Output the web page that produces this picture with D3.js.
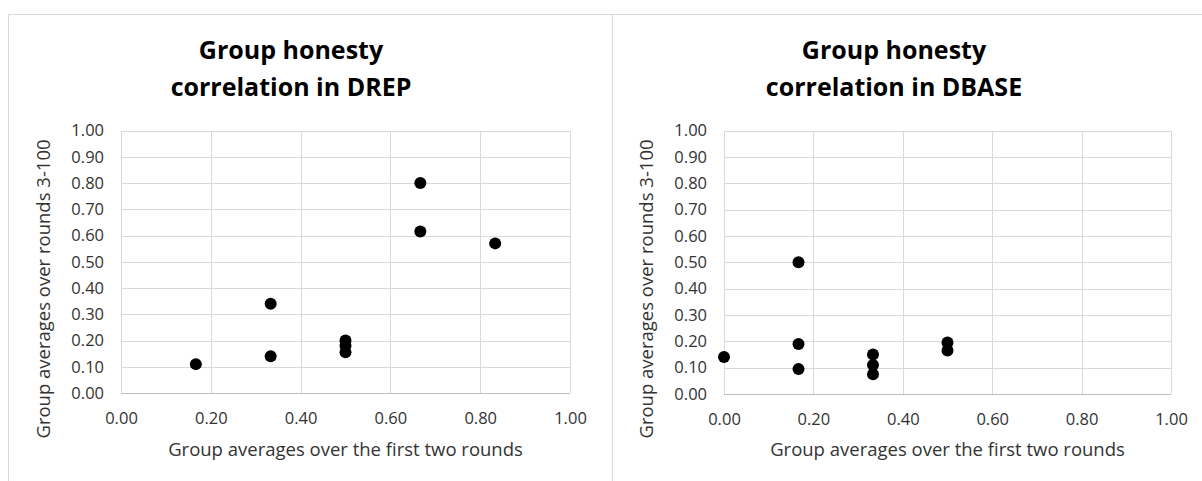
<!DOCTYPE html>
<html>
<head>
<meta charset="utf-8">
<script src="https://cdn.jsdelivr.net/npm/d3@7"></script>
<style>
  body { margin: 0; background: #fff; }
  text { font-family: "Open Sans", sans-serif; fill: #333; }
</style>
</head>
<body>
<div class="chart"></div>
<script>
// DREP panel: group averages (first two rounds vs rounds 3-100)
var drepX = [1/6, 1/3, 1/3, 0.5, 0.5, 0.5, 2/3, 2/3, 5/6];
var drepY = [0.11, 0.14, 0.34, 0.20, 0.18, 0.155, 0.80, 0.615, 0.57];

// DBASE panel
var dbaseX = [0, 1/6, 1/6, 1/6, 1/3, 1/3, 1/3, 0.5, 0.5];
var dbaseY = [0.14, 0.50, 0.19, 0.095, 0.15, 0.11, 0.075, 0.195, 0.165];

var xTickValues = [0, 0.2, 0.4, 0.6, 0.8, 1.0];
var yTickValues = [0, 0.1, 0.2, 0.3, 0.4, 0.5, 0.6, 0.7, 0.8, 0.9, 1.0];

var titleLine1 = "Group honesty";
var xTitle = "Group averages over the first two rounds";
var yTitle = "Group averages over rounds 3-100";

var svgWidth = 1202;
var svgHeight = 481;

var svg = d3.select(".chart")
  .append("svg")
  .attr("width", svgWidth)
  .attr("height", svgHeight);

// outer frame + divider between the two charts
svg.append("path")
  .attr("d", "M8.5,481 V14.5 H1202 M612.5,14.5 V481")
  .attr("fill", "none")
  .attr("stroke", "#d9d9d9");

var panels = [
  { xs: drepX, ys: drepY, title2: "correlation in DREP", left: 121, right: 570, bottom: 393, titleX: 291, yTitleX: 50 },
  { xs: dbaseX, ys: dbaseY, title2: "correlation in DBASE", left: 724, right: 1171, bottom: 394, titleX: 894, yTitleX: 653 }
];

var plotTop = 130.5;
var fmt = d3.format(".2f");

panels.forEach(function(p) {
  var width = p.right - p.left;
  var height = p.bottom - plotTop;

  var xScale = d3.scaleLinear().domain([0, 1]).range([0, width]);
  var yScale = d3.scaleLinear().domain([0, 1]).range([height, 0]);

  var g = svg.append("g")
    .attr("transform", `translate(${p.left}, ${plotTop})`);

  // horizontal gridlines + y labels
  var yAxis = d3.axisLeft(yScale)
    .tickValues(yTickValues)
    .tickFormat(fmt)
    .tickSize(-width)
    .tickPadding(17);

  var gy = g.append("g").call(yAxis);
  gy.select(".domain").remove();
  gy.selectAll("line").attr("stroke", "#d9d9d9").attr("shape-rendering", "crispEdges");
  gy.selectAll("text")
    .attr("font-family", "Open Sans")
    .attr("font-size", "16.5px")
    .attr("fill", "#333");

  // vertical gridlines + x labels
  var xAxis = d3.axisBottom(xScale)
    .tickValues(xTickValues)
    .tickFormat(fmt)
    .tickSize(-height)
    .tickPadding(19);

  var gx = g.append("g")
    .attr("transform", `translate(0, ${height})`)
    .call(xAxis);
  gx.select(".domain").remove();
  gx.selectAll("line").attr("stroke", "#d9d9d9").attr("shape-rendering", "crispEdges");
  gx.selectAll("text")
    .attr("font-family", "Open Sans")
    .attr("font-size", "16.5px")
    .attr("fill", "#333");

  // bottom axis line
  g.append("line")
    .attr("x1", 0).attr("x2", width)
    .attr("y1", height).attr("y2", height)
    .attr("stroke", "#bfbfbf")
    .attr("shape-rendering", "crispEdges");

  // points
  g.selectAll("circle")
    .data(p.xs.map(function(d, i) { return { x: d, y: p.ys[i] }; }))
    .enter()
    .append("circle")
    .attr("cx", d => xScale(d.x))
    .attr("cy", d => yScale(d.y))
    .attr("r", 6)
    .attr("fill", "#000");

  // chart title (two lines)
  svg.append("text")
    .attr("x", p.titleX).attr("y", 59)
    .attr("text-anchor", "middle")
    .attr("font-size", "25px")
    .attr("font-weight", "bold")
    .style("fill", "#000")
    .text(titleLine1);
  svg.append("text")
    .attr("x", p.titleX).attr("y", 96)
    .attr("text-anchor", "middle")
    .attr("font-size", "25px")
    .attr("font-weight", "bold")
    .style("fill", "#000")
    .text(p.title2);

  // axis titles
  svg.append("text")
    .attr("x", p.left + width / 2).attr("y", 456)
    .attr("text-anchor", "middle")
    .attr("font-size", "18.5px")
    .text(xTitle);
  svg.append("text")
    .attr("transform", `translate(${p.yTitleX}, 289) rotate(-90)`)
    .attr("text-anchor", "middle")
    .attr("font-size", "18.5px")
    .text(yTitle);
});
</script>
</body>
</html>
